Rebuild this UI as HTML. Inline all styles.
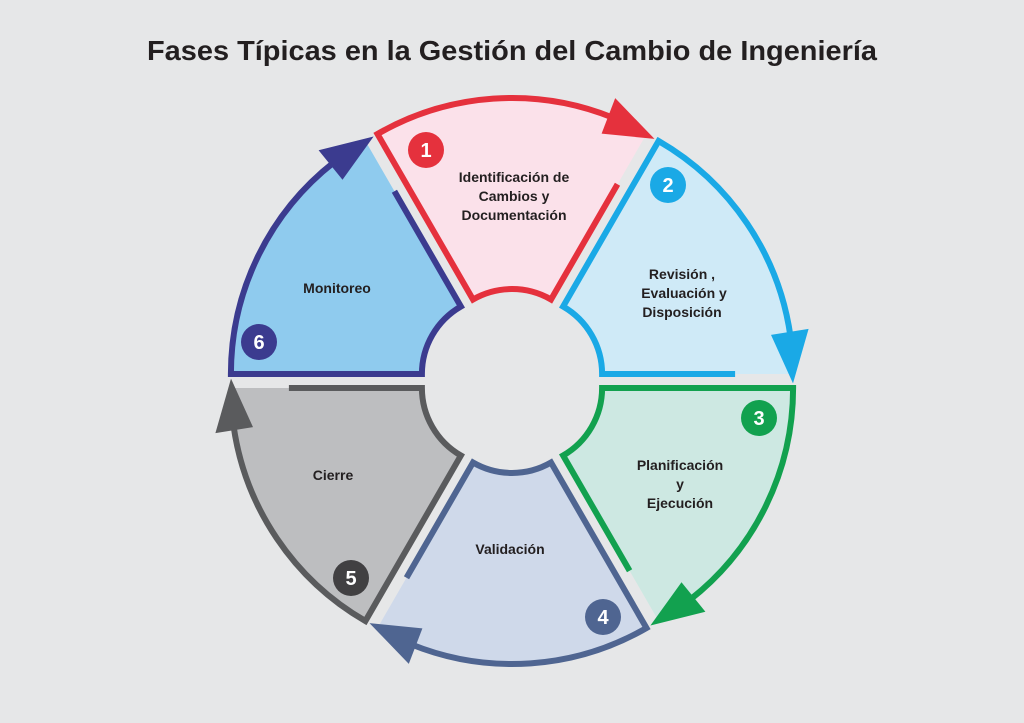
<!DOCTYPE html>
<html><head><meta charset="utf-8"><style>
html,body{margin:0;padding:0;background:#e6e7e8;}
svg{display:block;}
text{font-family:"Liberation Sans",Arial,sans-serif;font-weight:bold;}
</style></head><body>
<svg id="s" width="1024" height="723" viewBox="0 0 1024 723" xmlns="http://www.w3.org/2000/svg">
<rect width="1024" height="723" fill="#e6e7e8"/>
<text x="512" y="60" text-anchor="middle" font-size="28" fill="#231f20" textLength="730" lengthAdjust="spacingAndGlyphs">Fases Típicas en la Gestión del Cambio de Ingeniería</text>
<g id="g"></g>
<g font-size="14" fill="#231f20" text-anchor="middle">
<text x="514" y="182">Identificación de</text>
<text x="514" y="201">Cambios y</text>
<text x="514" y="220">Documentación</text>
<text x="682" y="279">Revisión ,</text>
<text x="684" y="298">Evaluación y</text>
<text x="682" y="317">Disposición</text>
<text x="680" y="470">Planificación</text>
<text x="680" y="489">y</text>
<text x="680" y="508">Ejecución</text>
<text x="510" y="554">Validación</text>
<text x="333" y="480">Cierre</text>
<text x="337" y="293">Monitoreo</text>
</g>
<g font-size="20" fill="#fff" text-anchor="middle">
<circle cx="426" cy="150" r="18" fill="#e5313d"/><text x="426" y="157">1</text>
<circle cx="668" cy="185" r="18" fill="#1aa9e6"/><text x="668" y="192">2</text>
<circle cx="759" cy="418" r="18" fill="#12a14f"/><text x="759" y="425">3</text>
<circle cx="603" cy="617" r="18" fill="#4f6591"/><text x="603" y="624">4</text>
<circle cx="351" cy="578" r="18" fill="#414042"/><text x="351" y="585">5</text>
<circle cx="259" cy="342" r="18" fill="#3b3b8f"/><text x="259" y="349">6</text>
</g>
</svg>
<script>
(function(){
var segs=[
 [-120,-60,'#e5313d','#fbe1ea'],
 [-60,0,'#1aa9e6','#cfeaf7'],
 [0,60,'#12a14f','#cde8e2'],
 [60,120,'#4f6591','#cfd9ea'],
 [120,180,'#5a5b5d','#bdbec0'],
 [180,240,'#3b3b8f','#8fcbee']];
var R=269,r=78,d=14,g=document.getElementById('g');
function P(c,rad,a){a=a*Math.PI/180;return [c[0]+rad*Math.cos(a),c[1]+rad*Math.sin(a)];}
function f(p){return p[0].toFixed(1)+' '+p[1].toFixed(1);}
var html='';
segs.forEach(function(s){
 var a0=s[0],a1=s[1],b=(a0+a1)/2*Math.PI/180;
 var c=[512+d*Math.cos(b),381+d*Math.sin(b)];
 var fill='M'+f(P(c,R,a0))+' A'+R+' '+R+' 0 0 1 '+f(P(c,R,a1))+' L'+f(P(c,r,a1))+' A'+r+' '+r+' 0 0 0 '+f(P(c,r,a0))+' Z';
 var out='M'+f(P(c,R-58,a1))+' L'+f(P(c,r,a1))+' A'+r+' '+r+' 0 0 0 '+f(P(c,r,a0))+' L'+f(P(c,R,a0))+' A'+R+' '+R+' 0 0 1 '+f(P(c,R,a1-8));
 var bc=P(c,R,a1-9),br=(a1-9)*Math.PI/180;
 var b1=[bc[0]+19*Math.cos(br),bc[1]+19*Math.sin(br)],b2=[bc[0]-19*Math.cos(br),bc[1]-19*Math.sin(br)];
 var tip=P(c,R,a1+2);
 html+='<path d="'+fill+'" fill="'+s[3]+'"/>';
 html+='<path d="'+out+'" fill="none" stroke="'+s[2]+'" stroke-width="6" stroke-linejoin="miter"/>';
 html+='<path d="M'+f(b1)+' L'+f(tip)+' L'+f(b2)+' Z" fill="'+s[2]+'"/>';
});
g.innerHTML=html;
})();
</script>
</body></html>
